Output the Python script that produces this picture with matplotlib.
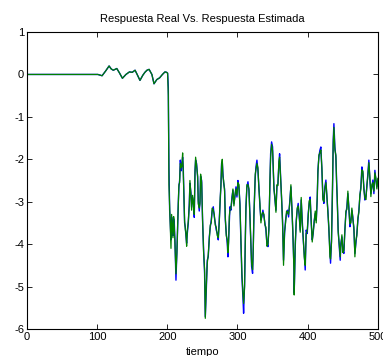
import matplotlib
matplotlib.use('Agg')
import matplotlib.pyplot as plt

plt.rcParams['font.family'] = ['Liberation Sans', 'DejaVu Sans']
plt.rcParams['axes.unicode_minus'] = False

# tiempo y respuestas
tiempo = [0, 101, 107, 112, 117, 120, 123, 128, 132, 136, 141, 146, 150, 154, 157, 161, 165, 168,
          171, 174, 178, 181, 185, 189, 193, 196.6, 199, 200.4,
          201.4, 202.3, 203.3, 204.2, 205.2, 206.1, 207.0, 208.0, 209.0, 209.9, 210.8, 212.3, 213.7,
          214.6, 215.6, 216.5, 217.5, 218.5, 219.9, 220.8, 221.8, 222.7, 223.7, 224.6, 225.6, 226.5,
          227.5, 228.4, 229.9, 231.3, 232.2, 233.7, 234.6, 236.0, 237.5, 238.4, 239.4, 240.3, 241.7,
          243.2, 244.1, 245.5, 246.5, 247.4, 248.9, 250.2, 251.7, 253.1, 254.1, 255.5, 256.9, 258.3,
          259.8, 261.2, 262.6, 264.0, 265.5, 266.9, 268.3, 269.7, 271.2, 272.6, 274.0, 275.4, 276.4,
          277.3, 278.3, 279.2, 280.2, 281.6, 282.6, 284.0, 285.4, 286.4, 287.3, 288.3, 289.2, 290.6,
          292.1, 293.5, 294.9, 296.3, 297.8, 299.2, 300.6, 302.0, 303.5, 304.9, 306.3, 307.7, 308.7,
          310.1, 311.1, 312.0, 313.4, 314.9, 316.3, 317.7, 319.1, 320.1, 321.5, 322.5, 323.4, 324.4,
          325.3, 326.3, 327.7, 329.1, 330.5, 332.0, 333.4, 334.8, 336.2, 337.7, 339.1, 340.5, 341.9,
          343.4, 344.8, 346.2, 347.2, 348.6, 350.0, 351.0, 351.9, 353.3, 354.8, 356.2, 357.6, 359.0,
          360.0, 362.8, 364.2, 365.6, 367.1, 368.5, 369.9, 371.3, 372.8, 374.7, 376.1, 377.5, 378.9,
          380.4, 380.8, 382.3, 383.7, 385.1, 386.5, 388.0, 389.4, 390.8, 392.2, 393.7, 395.1, 396.5,
          397.9, 399.4, 400.8, 402.2, 403.6, 405.1, 406.5, 407.9, 409.3, 410.8, 412.2, 413.6, 414.6,
          416.0, 417.4, 418.8, 420.3, 421.7, 423.1, 424.5, 426.0, 427.4, 428.8, 430.2, 431.7, 432.6,
          434.0, 435.5, 436.4, 437.4, 438.8, 440.2, 441.2, 442.1, 443.5, 445.0, 446.4, 447.3, 448.8,
          450.2, 451.6, 453.0, 454.5, 455.9, 457.3, 458.7, 460.2, 461.6, 463.0, 464.4, 465.9, 467.3,
          468.7, 470.1, 471.6, 473.0, 474.4, 475.8, 477.3, 478.7, 480.1, 481.5, 483.0, 484.4, 485.8,
          487.2, 488.7, 490.1, 491.5, 492.9, 494.4, 495.8, 497.2, 498.6, 500.0]

real = [0, 0, -0.03, 0.08, 0.2, 0.13, 0.1, 0.14, 0.03, -0.09, 0.0, 0.06, 0.05, 0.1, 0.0, -0.14, -0.02, 0.05,
        0.1, 0.12, 0.0, -0.22, -0.12, -0.08, 0.0, 0.06, 0.05, 0.03,
        -0.3, -2.2, -3.2, -3.5, -3.9, -3.36, -3.5, -3.8, -3.4, -3.5, -3.9, -4.85, -4.14,
        -3.67, -3.04, -2.65, -2.5, -2.02, -2.27, -2.1, -1.95, -2.2, -2.89, -3.5, -3.6, -3.8,
        -3.98, -3.76, -3.5, -3.04, -2.57, -2.8, -3.13, -2.9, -3.05, -3.37, -2.27, -2.02, -2.1,
        -2.43, -2.98, -3.22, -3.0, -2.4, -2.5, -3.43, -4.14, -4.69, -5.71, -5.1, -4.38, -4.3,
        -3.83, -3.6, -3.43, -3.2, -3.12, -3.35, -3.5, -3.67, -3.75, -3.9, -3.43, -2.96, -2.57,
        -2.1, -2.06, -2.33, -2.55, -2.7, -3.43, -3.75, -3.98, -4.3, -3.9, -3.43, -3.12, -3.2,
        -2.89, -2.73, -3.05, -2.89, -2.65, -2.89, -2.5, -2.65, -3.05, -3.98, -4.77, -5.24, -5.63,
        -4.93, -4.0, -3.12, -2.65, -2.53, -2.73, -3.3, -4.0, -4.53, -4.69, -4.06, -3.35, -2.8,
        -2.42, -2.18, -2.02, -2.26, -2.65, -3.12, -3.43, -3.35, -3.2, -3.35, -3.51, -3.67, -3.98,
        -4.06, -3.59, -2.57, -1.87, -1.59, -1.71, -2.26, -2.65, -2.95, -3.2, -2.65, -2.57, -2.1,
        -1.87, -2.95, -3.44, -4.38, -3.75, -3.44, -3.28, -3.2, -3.36, -2.96, -2.65, -3.12, -3.75,
        -4.53, -5.16, -4.06, -3.44, -3.2, -3.04, -3.36, -3.67, -2.96, -3.44, -3.9, -4.22, -4.61,
        -3.67, -3.75, -3.28, -3.04, -2.89, -3.51, -3.9, -3.75, -3.44, -3.28, -3.44, -2.96, -2.26,
        -1.95, -1.79, -1.71, -2.26, -2.89, -3.04, -2.65, -2.49, -2.89, -3.2, -3.67, -4.22, -4.45,
        -3.9, -2.65, -1.55, -1.16, -1.71, -1.95, -2.49, -2.96, -3.67, -4.06, -4.38, -3.98, -3.83,
        -4.14, -4.22, -3.67, -3.28, -3.12, -2.81, -3.12, -3.59, -3.44, -3.2, -3.36, -3.67, -4.22,
        -3.98, -3.75, -3.44, -3.2, -2.89, -2.65, -2.18, -2.33, -2.65, -2.96, -2.89, -2.65, -2.33,
        -2.02, -2.49, -2.81, -2.65, -2.49, -2.81, -2.26, -2.49, -2.65, -2.49]

estimada = [0, 0, -0.03, 0.08, 0.2, 0.13, 0.1, 0.14, 0.03, -0.09, 0.0, 0.06, 0.05, 0.1, 0.0, -0.14, -0.02, 0.05,
            0.1, 0.12, 0.0, -0.22, -0.12, -0.08, 0.0, 0.06, 0.05, 0.03,
            -0.5, -2.6, -3.1, -3.6, -4.1, -3.3, -3.55, -3.85, -3.35, -3.6, -3.95, -4.7, -4.2,
            -3.6, -3.1, -2.6, -2.55, -2.1, -2.2, -2.15, -1.85, -2.3, -2.95, -3.45, -3.65, -3.75,
            -4.05, -3.7, -3.45, -3.1, -2.5, -2.85, -3.2, -2.85, -3.1, -3.3, -2.35, -1.95, -2.15,
            -2.4, -3.05, -3.15, -3.05, -2.35, -2.55, -3.4, -4.2, -4.6, -5.75, -5.0, -4.45, -4.25,
            -3.9, -3.55, -3.5, -3.15, -3.2, -3.3, -3.55, -3.6, -3.8, -3.85, -3.5, -2.9, -2.65,
            -2.15, -2.0, -2.4, -2.5, -2.75, -3.35, -3.8, -3.9, -4.2, -3.95, -3.35, -3.2, -3.15,
            -2.95, -2.7, -3.1, -2.85, -2.7, -2.85, -2.55, -2.6, -3.1, -3.9, -4.7, -5.15, -5.4,
            -5.0, -3.9, -3.2, -2.6, -2.6, -2.7, -3.35, -3.95, -4.45, -4.6, -4.1, -3.3, -2.85,
            -2.35, -2.25, -2.1, -2.2, -2.7, -3.05, -3.5, -3.3, -3.25, -3.3, -3.55, -3.6, -4.05,
            -4.0, -3.65, -2.5, -1.95, -1.65, -1.8, -2.2, -2.7, -2.9, -3.25, -2.6, -2.62, -2.05,
            -1.95, -2.9, -3.5, -4.5, -3.7, -3.5, -3.22, -3.25, -3.3, -3.0, -2.6, -3.18, -3.7,
            -4.6, -5.2, -4.0, -3.5, -3.15, -3.1, -3.3, -3.72, -2.9, -3.5, -3.85, -4.3, -4.5,
            -3.75, -3.7, -3.35, -2.98, -2.95, -3.45, -3.95, -3.7, -3.5, -3.22, -3.5, -2.9, -2.32,
            -1.9, -1.85, -1.78, -2.2, -2.95, -3.0, -2.7, -2.55, -2.85, -3.25, -3.6, -4.3, -4.35,
            -3.95, -2.6, -1.65, -1.25, -1.78, -1.9, -2.55, -2.9, -3.72, -4.0, -4.3, -4.05, -3.78,
            -4.2, -4.15, -3.72, -3.22, -3.18, -2.75, -3.18, -3.52, -3.5, -3.15, -3.42, -3.6, -4.3,
            -3.92, -3.8, -3.38, -3.25, -2.83, -2.7, -2.25, -2.28, -2.72, -2.9, -2.95, -2.6, -2.4,
            -2.08, -2.42, -2.88, -2.6, -2.55, -2.75, -2.32, -2.44, -2.7, -2.45]

fig = plt.figure(figsize=(3.83, 3.56), dpi=100)
ax = fig.add_axes([0.0705, 0.076, 0.916, 0.834])

ax.plot(tiempo, real, color='#0000ff', lw=1.0)
ax.plot(tiempo, estimada, color='#008000', lw=0.9)

ax.set_xlim(0, 500)
ax.set_ylim(-6, 1)
ax.set_xticks([0, 100, 200, 300, 400, 500])
ax.set_yticks([-6, -5, -4, -3, -2, -1, 0, 1])
ax.tick_params(direction='in', top=True, right=True, length=3.5, width=0.6,
               labelsize=8, pad=2)
for s in ax.spines.values():
    s.set_linewidth(0.8)

ax.set_title('Respuesta Real Vs. Respuesta Estimada', fontsize=8, pad=7)
ax.set_xlabel('tiempo', fontsize=8, labelpad=4)

fig.savefig('out.png', dpi=100)
